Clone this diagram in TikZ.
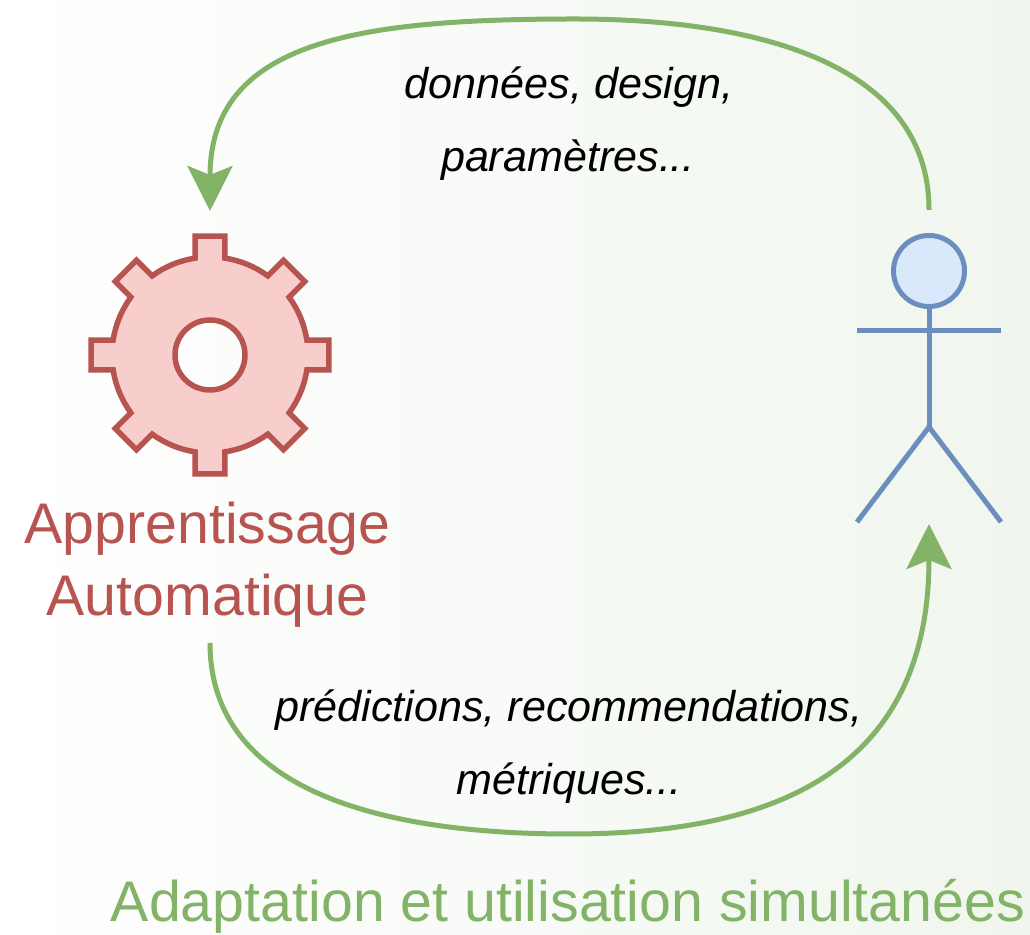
\documentclass[tikz,border=0pt]{standalone}
\usepackage{fontspec}
\setmainfont{Liberation Sans}
\usetikzlibrary{arrows.meta}
\definecolor{gearline}{HTML}{B85450}
\definecolor{gearfill}{HTML}{F8CECC}
\definecolor{actline}{HTML}{6C8EBF}
\definecolor{actfill}{HTML}{DAE8FC}
\definecolor{flow}{HTML}{82B366}
\definecolor{bgright}{HTML}{F0F6EE}
\tikzset{
  x=1pt,y=1pt,
  flowline/.style={draw=flow,line width=5pt,-{Stealth[length=45pt,width=45pt,inset=9pt]}},
  gearshape/.style={draw=gearline,fill=gearfill,line width=5.5pt,even odd rule,line join=miter},
  actorline/.style={draw=actline,line width=5pt},
  flowtext/.style={font=\fontsize{43.1}{43.1}\selectfont\itshape,anchor=base,inner sep=0pt,text=black},
  geartext/.style={font=\fontsize{57.3}{57.3}\selectfont,anchor=base,inner sep=0pt,text=gearline},
  adapttext/.style={font=\fontsize{57.3}{57.3}\selectfont,anchor=base,inner sep=0pt,text=flow}
}
\begin{document}
\begin{tikzpicture}
\useasboundingbox (0,0) rectangle (1030,934);
\shade[left color=white,right color=bgright] (0,0) rectangle (1030,934);
% gear
\begin{scope}[shift={(210,579)}]
\draw[gearshape] (-8.8:98)
  \foreach \a in {0,45,...,315}{
    -- (\a-7.18:119.9) -- (\a+7.18:119.9) -- (\a+8.8:98)
    arc[start angle=\a+8.8,end angle=\a+36.2,radius=98]
  } -- cycle
  (0,0) circle[radius=35];
\end{scope}
% actor
\node[draw=actline,fill=actfill,line width=5pt,circle,minimum size=71pt,inner sep=0pt,outer sep=0pt] (head) at (929,663) {};
\coordinate (hip) at (929,507);
\coordinate (armL) at (857,603);
\coordinate (armR) at (1001,603);
\coordinate (footL) at (857,412);
\coordinate (footR) at (1001,412);
\draw[actorline] (head.south) -- (hip);
\draw[actorline] (armL) -- (armR);
\draw[actorline,line join=miter] (footL) -- (hip) -- (footR);
% labels
\node[geartext] (ml1) at (207.5,390) {Apprentissage};
\node[geartext] (ml2) at (207.5,318) {Automatique};
\node[flowtext] (t1) at (569,835) {données, design,};
\node[flowtext] (t2) at (568,762) {paramètres...};
\node[flowtext] (t3) at (569,212) {prédictions, recommendations,};
\node[flowtext] (t4) at (569,139) {métriques...};
\node[adapttext] (t5) at (568,12.5) {Adaptation et utilisation simultanées};
% connectors
\coordinate (gearTop) at (210,723);
\coordinate (actorTop) at (929,724);
\coordinate (topApex) at (575,915);
\coordinate (mlBottom) at (210,291);
\coordinate (bottomApex) at (570,100);
\coordinate (actorBottom) at (929,410);
\draw[flowline] (actorTop) .. controls (929,869) and (760,915) .. (topApex)
  .. controls (360,915) and (210,894) .. (gearTop);
\draw[flowline] (mlBottom) .. controls (210,144) and (380,100) .. (bottomApex)
  .. controls (760,100) and (929,154) .. (actorBottom);
\end{tikzpicture}
\end{document}
